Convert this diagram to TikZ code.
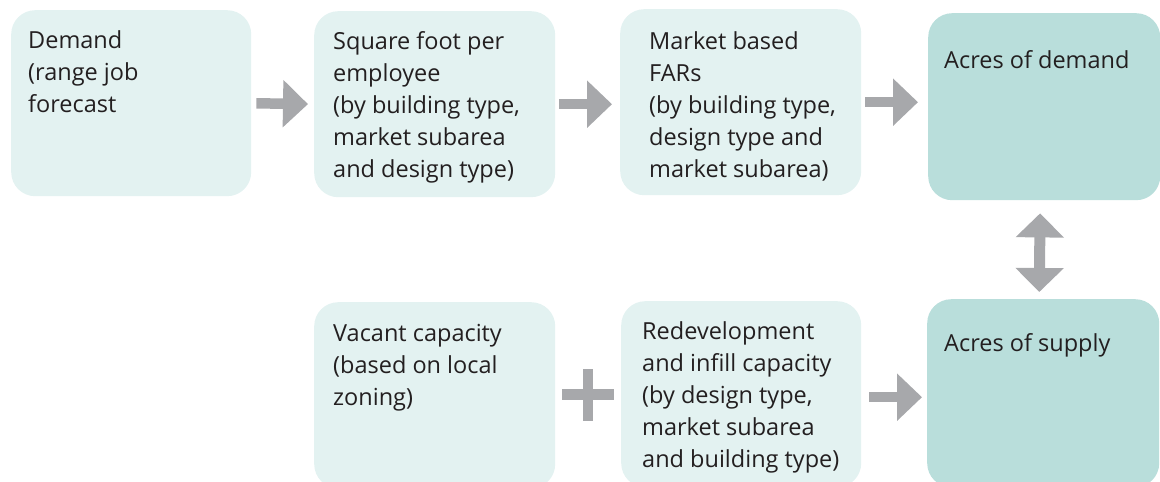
\documentclass[tikz,border=0pt]{standalone}
\usepackage{fontspec}
\setmainfont{Open Sans}
\usepackage{xcolor}
\usepackage{tikz}
\usetikzlibrary{positioning,calc,arrows.meta}

\definecolor{boxlight}{HTML}{E3F2F1}
\definecolor{boxdark}{HTML}{B9DEDB}
\definecolor{arrowgray}{HTML}{A7A8AB}
\definecolor{textdark}{HTML}{231F20}

% first line is held 22.4pt above its baseline
\newcommand{\boxstrut}{\rule[-9.6pt]{0pt}{32pt}}

\tikzset{
    box/.style={rectangle, rounded corners=24pt, inner sep=0pt, anchor=north west,
        minimum width=241pt, minimum height=186pt},
    lightbox/.style={box, fill=boxlight},
    darkbox/.style={box, fill=boxdark, minimum width=232pt},
    boxtext/.style={anchor=north west, inner sep=0pt, align=left, text=textdark,
        font=\fontsize{23.5}{32}\selectfont},
    blockarrow/.style={arrowgray, line width=10.5pt, -{Triangle[width=46pt,length=25pt]}},
    twoway/.style={arrowgray, line width=11pt,
        {Triangle[width=47pt,length=24pt]}-{Triangle[width=47pt,length=24pt]}},
    plusbar/.style={arrowgray, line width=10.5pt}
}

\begin{document}
\begin{tikzpicture}[x=1pt,y=-1pt]
    \useasboundingbox (0,0) rectangle (1160,482);

    % Demand side (top row)
    \node[lightbox, minimum width=240pt] (demand) at (11,10) {};
    \node[lightbox] (sqft) at (314,11) {};
    \node[lightbox] (fars) at (620,9) {};
    \node[darkbox, minimum height=187pt] (acresdem) at (928,13) {};

    \node[boxtext] (demandtxt) at (28,48-22.4) {\boxstrut Demand\\(range job\\forecast};
    \node[boxtext] (sqfttxt) at (333,49-22.4) {\boxstrut Square foot per\\employee\\(by building type,\\market subarea\\and design type)};
    \node[boxtext] (farstxt) at (649,49-22.4) {\boxstrut Market based\\FARs\\(by building type,\\design type and\\market subarea)};
    \node[boxtext] (acresdemtxt) at (944,68-22.4) {\boxstrut Acres of demand};

    % Supply side (bottom row)
    \node[lightbox] (vacant) at (314,302) {};
    \node[lightbox, minimum width=240pt] (redev) at (621,301) {};
    \node[darkbox, minimum height=188pt] (acressup) at (927,299) {};

    \node[boxtext] (vacanttxt) at (333,341-22.4) {\boxstrut Vacant capacity\\(based on local\\zoning)};
    \node[boxtext] (redevtxt) at (642,339-22.4) {\boxstrut Redevelopment\\and infill capacity\\(by design type,\\market subarea\\and building type)};
    \node[boxtext] (acressuptxt) at (944,351-22.4) {\boxstrut Acres of supply};

    % Flow arrows
    \draw[blockarrow, shorten <=5pt, shorten >=6pt] (demand.east) -- (sqft.west);
    \draw[blockarrow, shorten <=4pt, shorten >=8pt] (sqft.east) -- (sqft.east -| fars.west);
    \draw[blockarrow, shorten <=4pt, shorten >=10pt] (fars.east) -- (fars.east -| acresdem.west);
    \draw[blockarrow, shorten <=8pt, shorten >=5pt] ([yshift=-3pt]redev.east) -- ([yshift=-3pt]redev.east -| acressup.west);

    % Plus sign
    \coordinate (plus) at ($(vacant.east)!0.5!(redev.west)$);
    \draw[plusbar] ([xshift=-26pt]plus) -- ([xshift=26pt]plus);
    \draw[plusbar] ([yshift=-26pt]plus) -- ([yshift=26pt]plus);

    % Demand vs supply
    \draw[twoway, shorten <=13pt, shorten >=7pt] ([xshift=-4pt]acresdem.south) -- ([xshift=-4pt]acressup.north);
\end{tikzpicture}
\end{document}
